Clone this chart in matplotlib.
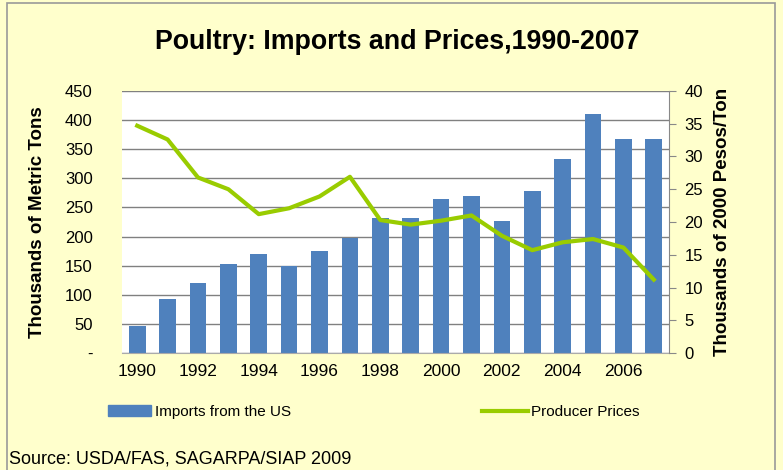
import numpy as np
import matplotlib
matplotlib.use("Agg")
import matplotlib.pyplot as plt
from matplotlib.patches import Rectangle
from matplotlib.lines import Line2D
from matplotlib.patches import Patch

plt.rcParams['font.family'] = ['Liberation Sans', 'DejaVu Sans']

years = list(range(1990, 2008))
imports = [46, 93, 120, 153, 170, 150, 175, 198, 232, 232, 265, 270, 227, 278, 333, 410, 367, 367]
prices = [34.7, 32.6, 26.8, 25.0, 21.2, 22.1, 23.9, 26.9, 20.3, 19.6, 20.2, 21.0, 17.9, 15.7, 16.9, 17.4, 16.1, 11.2]
left_ticks = [0, 50, 100, 150, 200, 250, 300, 350, 400, 450]
left_labels = ['-', '50', '100', '150', '200', '250', '300', '350', '400', '450']
right_ticks = [0, 5, 10, 15, 20, 25, 30, 35, 40]

bg = '#FFFFCC'
bar_color = '#4F81BD'
line_color = '#99CC00'

fig = plt.figure(figsize=(7.83, 4.7), dpi=100, facecolor=bg)
fig.patches.append(Rectangle((7/783, -0.05), 768/783, 1.05 - 3/470, transform=fig.transFigure,
                             fill=False, edgecolor='#999999', linewidth=1.2))

ax = fig.add_axes([122/783, 117/470, 547/783, 262/470])
ax.set_facecolor('white')
x = np.arange(len(years))
ax.bar(x, imports, width=0.55, color=bar_color, zorder=2)
ax.set_xlim(-0.5, len(years) - 0.5)
ax.set_ylim(0, 450)
ax.set_yticks(left_ticks)
ax.set_yticklabels(left_labels, fontsize=12)
ax.set_xticks(x[::2])
ax.set_xticklabels([str(y) for y in years[::2]], fontsize=12.5)
ax.tick_params(axis='x', length=0, pad=8)
ax.tick_params(axis='y', length=0, pad=21)
ax.grid(axis='y', color='#808080', linewidth=1, zorder=1)
for s in ['top', 'left', 'right']:
    ax.spines[s].set_visible(False)
ax.spines['bottom'].set_color('#aaaaaa')
ax.set_ylabel('Thousands of Metric Tons', fontsize=13.5, fontweight='bold', labelpad=14)

ax2 = ax.twinx()
ax2.plot(x, prices, color=line_color, linewidth=3, zorder=3)
ax2.set_ylim(0, 40)
ax2.set_yticks(right_ticks)
ax2.tick_params(axis='y', labelsize=12, length=5, color='#888888', pad=6)
for s in ['top', 'left', 'bottom']:
    ax2.spines[s].set_visible(False)
ax2.spines['right'].set_color('#888888')
ax2.set_ylabel('Thousands of 2000 Pesos/Ton', fontsize=13.5, fontweight='bold', labelpad=8)

fig.text(397/783, 1 - 42/470, 'Poultry: Imports and Prices,1990-2007', ha='center', va='center',
         fontsize=19.3, fontweight='bold')

handles = [Patch(color=bar_color), Line2D([0], [0], color=line_color, linewidth=3)]
fig.legend(handles[:1], ['Imports from the US'], loc='center left', bbox_to_anchor=(94/783, 1 - 412/470),
           frameon=False, fontsize=11, handlelength=2.8, handletextpad=0.3)
fig.legend(handles[1:], ['Producer Prices'], loc='center left', bbox_to_anchor=(468/783, 1 - 412/470),
           frameon=False, fontsize=11, handlelength=3.0, handletextpad=0.2)

fig.text(9/783, 1 - 459/470, 'Source: USDA/FAS, SAGARPA/SIAP 2009', ha='left', va='center', fontsize=13)

fig.savefig('out.png', dpi=100, facecolor=bg)
